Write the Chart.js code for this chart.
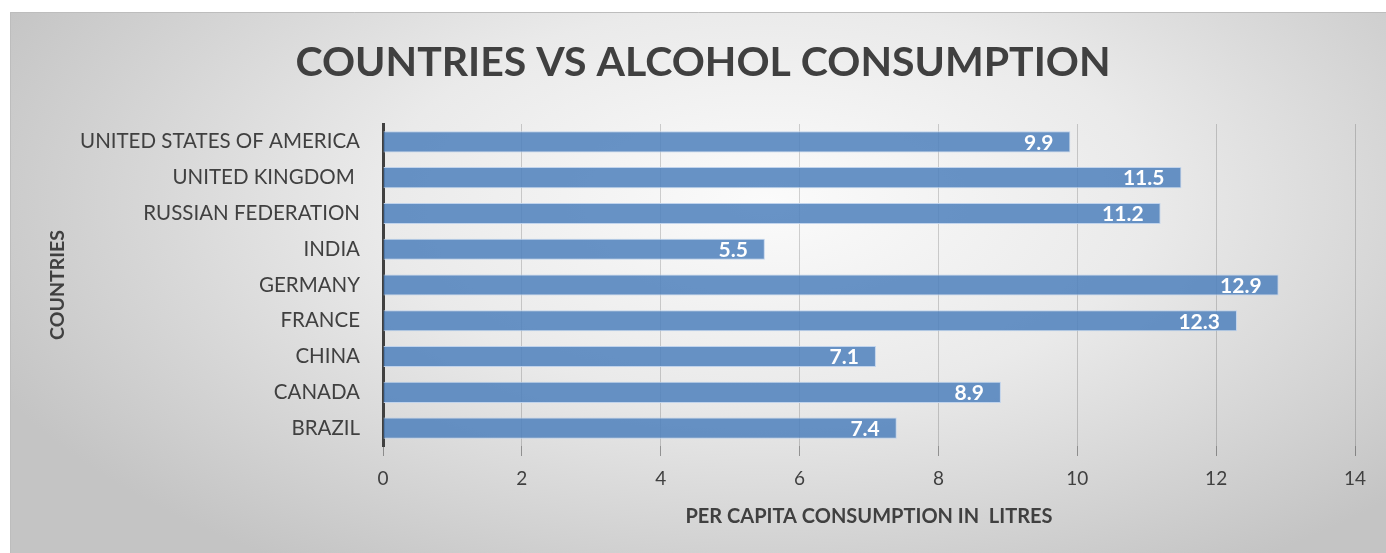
<!DOCTYPE html>
<html>
<head>
<meta charset="utf-8">
<script src="https://cdn.jsdelivr.net/npm/chart.js@4.4.1/dist/chart.umd.min.js"></script>
<style>
  html, body { margin: 0; padding: 0; background: #ffffff; }
  #wrap { position: relative; width: 1386px; height: 553px; }
</style>
</head>
<body>
<div id="wrap"><canvas id="chart" width="1386" height="553"></canvas></div>
<script>
// countries, listed top to bottom as in the picture
var countries = ["UNITED STATES OF AMERICA", "UNITED KINGDOM ", "RUSSIAN FEDERATION", "INDIA",
                 "GERMANY", "FRANCE", "CHINA", "CANADA", "BRAZIL"];
// per capita consumption in litres
var litres = [9.9, 11.5, 11.2, 5.5, 12.9, 12.3, 7.1, 8.9, 7.4];
var xTicks = [0, 2, 4, 6, 8, 10, 12, 14];
var chartTitle = "COUNTRIES VS ALCOHOL CONSUMPTION";

var textColor = "#404040";
var fontName = "Lato";

// gray panel with lighter middle, drawn behind the chart
var panelBg = {
    id: "panelBg",
    beforeDraw: function (chart) {
        var ctx = chart.ctx;
        var w = chart.width, h = chart.height;
        ctx.save();
        ctx.fillStyle = "#ffffff";
        ctx.fillRect(0, 0, w, h);
        var px = 10, py = 12, pw = w - px, ph = h - py;
        var cx = px + pw * 0.55, cy = py + ph * 0.35;
        var sy = ph / pw * 1.3;
        ctx.translate(cx, cy);
        ctx.scale(1, sy);
        var g = ctx.createRadialGradient(0, 0, 0, 0, 0, pw * 0.62);
        g.addColorStop(0, "#fbfbfb");
        g.addColorStop(0.45, "#eaeaea");
        g.addColorStop(1, "#c4c4c4");
        ctx.fillStyle = g;
        ctx.fillRect(px - cx, (py - cy) / sy, pw, ph / sy);
        ctx.restore();
        ctx.save();
        ctx.strokeStyle = "#bdbdbd";
        ctx.lineWidth = 1;
        ctx.beginPath();
        ctx.moveTo(px + 0.5, h);
        ctx.lineTo(px + 0.5, py + 0.5);
        ctx.lineTo(w, py + 0.5);
        ctx.stroke();
        // title over the panel (centred on the panel, not on the plot)
        ctx.font = "bold 41px " + fontName;
        ctx.fillStyle = textColor;
        ctx.textAlign = "center";
        ctx.textBaseline = "middle";
        ctx.fillText(chartTitle, 703, 63);
        ctx.restore();
    }
};

// white value labels at the end of each bar
var barValues = {
    id: "barValues",
    afterDatasetsDraw: function (chart) {
        var ctx = chart.ctx;
        var meta = chart.getDatasetMeta(0);
        ctx.save();
        ctx.font = "bold 21px " + fontName;
        ctx.fillStyle = "#ffffff";
        ctx.textAlign = "right";
        ctx.textBaseline = "middle";
        meta.data.forEach(function (bar, i) {
            var v = chart.data.datasets[0].data[i];
            ctx.fillText(String(v), bar.x - 17, bar.y + 1);
        });
        ctx.restore();
    }
};

new Chart(document.getElementById("chart"), {
    type: "bar",
    data: {
        labels: countries,
        datasets: [{
            data: litres,
            backgroundColor: "rgba(79,129,189,0.86)",
            borderColor: "rgba(190,210,236,0.95)",
            borderWidth: 1,
            categoryPercentage: 1,
            barPercentage: 0.59
        }]
    },
    options: {
        indexAxis: "y",
        responsive: false,
        animation: false,
        devicePixelRatio: 1,
        layout: { padding: { left: 10, top: 124, right: 31, bottom: 0 } },
        plugins: {
            legend: { display: false },
            tooltip: { enabled: false },
            title: { display: false }
        },
        scales: {
            x: {
                min: 0,
                max: 14,
                afterBuildTicks: function (scale) {
                    scale.ticks = xTicks.map(function (v) { return { value: v }; });
                },
                afterFit: function (scale) { scale.height = 107; },
                grid: {
                    color: "rgba(0,0,0,0.17)",
                    tickColor: "rgba(0,0,0,0.35)",
                    tickLength: 10,
                    lineWidth: 1
                },
                border: { display: false },
                ticks: {
                    color: textColor,
                    font: { family: fontName, size: 19 },
                    padding: 11
                },
                title: {
                    display: true,
                    text: "PER CAPITA CONSUMPTION IN  LITRES",
                    color: textColor,
                    font: { family: fontName, size: 20, weight: "bold" },
                    padding: { top: 0, bottom: 24 }
                }
            },
            y: {
                afterFit: function (scale) { scale.width = 373; },
                grid: { display: false, drawTicks: false },
                border: { display: true, color: "#404040", width: 3 },
                ticks: {
                    color: textColor,
                    font: { family: fontName, size: 20.5 },
                    padding: 23
                },
                title: {
                    display: true,
                    text: "COUNTRIES",
                    color: textColor,
                    font: { family: fontName, size: 19.5, weight: "bold" },
                    padding: { top: 36, bottom: 0 }
                }
            }
        }
    },
    plugins: [panelBg, barValues]
});
</script>
</body>
</html>
